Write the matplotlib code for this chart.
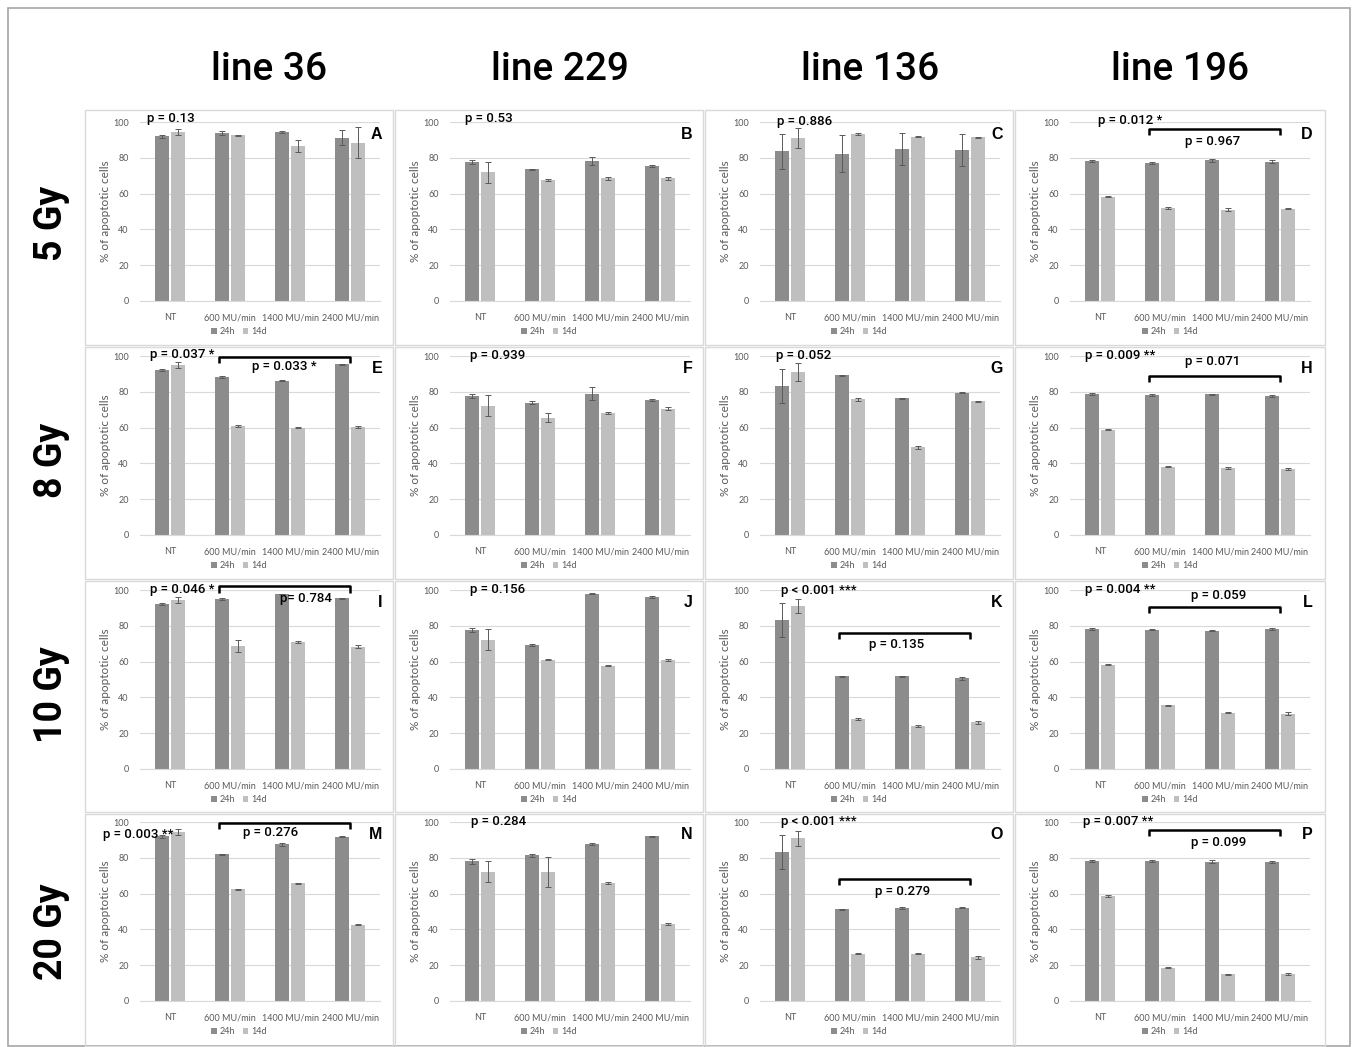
"""Apoptotic cell fractions, 4 cell lines x 4 doses, grouped bars 24h / 14d."""

import matplotlib

matplotlib.use("Agg")

import matplotlib.pyplot as plt
import numpy as np
from matplotlib.patches import Rectangle

W, H = 1356, 1047

cell_lines = ["line 36", "line 229", "line 136", "line 196"]
doses = ["5 Gy", "8 Gy", "10 Gy", "20 Gy"]
groups = ["NT", "600 MU/min", "1400 MU/min", "2400 MU/min"]
letters = [["A", "B", "C", "D"],
           ["E", "F", "G", "H"],
           ["I", "J", "K", "L"],
           ["M", "N", "O", "P"]]

# rows: 5, 8, 10, 20 Gy   columns: NT, 600, 1400, 2400 MU/min
line36_24h = [[92, 93.7, 94.4, 91.3], [92.3, 88.4, 86.3, 95.3],
              [92.2, 95, 97.8, 95.3], [92, 82, 87.6, 91.7]]
line36_14d = [[94.6, 92.6, 86.7, 88.5], [94.8, 60.7, 60, 60.4],
              [94.4, 68.9, 71, 68.3], [94.5, 62.5, 65.9, 42.7]]
line36_24h_err = [[0.8, 1, 0.3, 4.4], [0.5, 0.5, 0.5, 0.4],
                  [0.5, 0.7, 0.2, 0.3], [0.8, 0.3, 0.8, 0.3]]
line36_14d_err = [[1.7, 0.3, 3.2, 8.6], [1.7, 0.5, 0.4, 0.5],
                  [1.5, 3.4, 0.5, 0.7], [1.7, 0.3, 0.3, 0.4]]

line229_24h = [[77.8, 73.7, 78.2, 75.4], [77.8, 73.9, 78.9, 75.6],
               [77.8, 69.4, 97.8, 96.1], [78, 81.3, 87.7, 92.1]]
line229_14d = [[71.9, 67.6, 68.5, 68.5], [72.2, 65.6, 68.3, 70.6],
               [72.2, 61.1, 57.8, 61.1], [72.3, 72, 66, 43]]
line229_24h_err = [[1.1, 0.3, 2.5, 0.3], [1.1, 0.8, 3.6, 0.5],
                   [1.1, 0.7, 0.3, 0.5], [1.2, 0.7, 0.3, 0.3]]
line229_14d_err = [[5.8, 0.5, 1, 1], [5.8, 2.4, 0.5, 0.8],
                   [5.8, 0.4, 0.4, 0.5], [5.8, 8.2, 0.6, 0.5]]

line136_24h = [[83.6, 82.3, 85, 84.4], [83.5, 89.2, 76.3, 79.4],
               [83.3, 51.7, 51.7, 50.7], [83.4, 51.2, 52, 52]]
line136_14d = [[91, 93.3, 91.8, 91.4], [91, 75.8, 49, 74.6],
               [91.1, 27.9, 24, 26], [91, 26.5, 26.5, 24.4]]
line136_24h_err = [[9.6, 10.2, 9, 9.1], [9.5, 0.3, 0.3, 0.3],
                   [9.3, 0.3, 0.3, 0.8], [9.5, 0.3, 0.4, 0.3]]
line136_14d_err = [[5.6, 0.4, 0.4, 0.3], [5, 0.8, 0.8, 0.3],
                   [4.1, 0.8, 0.8, 0.8], [4.2, 0.5, 0.5, 0.8]]

line196_24h = [[78.1, 77, 78.5, 77.9], [78.9, 78.3, 78.6, 77.6],
               [78.3, 77.8, 77.2, 78.3], [78.3, 78.3, 77.9, 77.6]]
line196_14d = [[58.3, 51.9, 51.1, 51.5], [58.9, 38.2, 37.2, 36.7],
               [58.3, 35.6, 31.5, 31], [58.6, 18.7, 15, 15]]
line196_24h_err = [[0.4, 0.7, 0.7, 0.6], [0.5, 0.6, 0.4, 0.4],
                   [0.4, 0.4, 0.3, 0.7], [0.4, 0.4, 1, 0.4]]
line196_14d_err = [[0.4, 0.4, 0.7, 0.3], [0.4, 0.4, 0.6, 0.5],
                   [0.4, 0.4, 0.4, 0.7], [0.4, 0.5, 0.3, 0.5]]

# overall p value per panel, and the bracketed 600-2400 comparison
line36_p = ["p = 0.13", "p = 0.037 *", "p = 0.046 *", "p = 0.003 **"]
line229_p = ["p = 0.53", "p = 0.939", "p = 0.156", "p = 0.284"]
line136_p = ["p = 0.886", "p = 0.052", "p < 0.001 ***", "p < 0.001 ***"]
line196_p = ["p = 0.012 *", "p = 0.009 **", "p = 0.004 **", "p = 0.007 **"]

line36_bracket_p = [None, "p = 0.033 *", "p= 0.784", "p = 0.276"]
line229_bracket_p = [None, None, None, None]
line136_bracket_p = [None, None, "p = 0.135", "p = 0.279"]
line196_bracket_p = ["p = 0.967", "p = 0.071", "p = 0.059", "p = 0.099"]

means_24h = [line36_24h, line229_24h, line136_24h, line196_24h]
means_14d = [line36_14d, line229_14d, line136_14d, line196_14d]
errs_24h = [line36_24h_err, line229_24h_err, line136_24h_err, line196_24h_err]
errs_14d = [line36_14d_err, line229_14d_err, line136_14d_err, line196_14d_err]
p_main = [line36_p, line229_p, line136_p, line196_p]
p_bracket = [line36_bracket_p, line229_bracket_p, line136_bracket_p, line196_bracket_p]

# ---- layout (pixels) ----
panel_x = [85, 395, 705, 1015]
panel_w = [308, 308, 308, 310]
panel_y = [110, 347, 581, 814]
panel_h = [235, 232, 231, 232]
axes_left = [140, 450, 760, 1070]
axes_top = [122, 356, 590, 822]
AX_W, AX_H = 240, 179

# main p label position (x left, y centre) in data units
main_pos = {
    "A": (-0.38, 102), "B": (-0.25, 102), "C": (-0.22, 100.5), "D": (-0.03, 101),
    "E": (-0.33, 101), "F": (-0.17, 100.5), "G": (-0.23, 100.5), "H": (-0.25, 100.5),
    "I": (-0.33, 100.5), "J": (-0.17, 100.5), "K": (-0.15, 99.5), "L": (-0.25, 100.5),
    "M": (-1.12, 93), "N": (-0.15, 100.5), "O": (-0.15, 100), "P": (-0.28, 100),
}
# bracket height and the text position (x centre, y centre)
bracket_pos = {
    "D": (96, 1.88, 89), "E": (99.4, 1.9, 94.4), "H": (89, 1.88, 97.2),
    "I": (102, 2.27, 95.5), "K": (76, 1.78, 69.4), "L": (90.5, 1.97, 97.2),
    "M": (99.6, 1.67, 94), "O": (68.3, 1.88, 61), "P": (95.7, 1.98, 88.8),
}

C24 = "#8c8c8c"
C14 = "#bfbfbf"
GRID = "#d9d9d9"
TXT = "#595959"
AX_FONT = ["Lato", "DejaVu Sans"]
P_FONT = ["Roboto", "DejaVu Sans"]


def fig_rect(x, y, w, h):
    return [x / W, 1 - (y + h) / H, w / W, h / H]


fig = plt.figure(figsize=(W / 100, H / 100), dpi=100)
plt.rcParams["font.family"] = AX_FONT

fig.add_artist(Rectangle((8 / W, 1 - 1046 / H), 1342 / W, 1038 / H,
                         transform=fig.transFigure, fill=False,
                         ec="#a6a6a6", lw=1.2))

for c, name in enumerate(cell_lines):
    fig.text(([269, 560, 870, 1180][c]) / W, 1 - 70 / H, name,
             family=P_FONT, weight="medium", fontsize=28,
             ha="center", va="center")
for r, dose in enumerate(doses):
    fig.text(52 / W, 1 - [223, 460, 695, 932][r] / H, dose,
             family=P_FONT, weight="bold", fontsize=27, rotation=90,
             ha="center", va="center")

x = np.arange(len(groups))
bw = 0.235
for r in range(4):
    for c in range(4):
        letter = letters[r][c]
        fig.add_artist(Rectangle((panel_x[c] / W, 1 - (panel_y[r] + panel_h[r]) / H),
                                 panel_w[c] / W, panel_h[r] / H,
                                 transform=fig.transFigure, fill=False,
                                 ec=GRID, lw=1.0))
        ax = fig.add_axes(fig_rect(axes_left[c], axes_top[r], AX_W, AX_H))
        ekw = dict(ecolor="#5a5a5a", elinewidth=0.7, capsize=2, capthick=0.7)
        b1 = ax.bar(x - 0.14, means_24h[c][r], bw, yerr=errs_24h[c][r],
                    color=C24, error_kw=ekw, zorder=2, label="24h")
        b2 = ax.bar(x + 0.14, means_14d[c][r], bw, yerr=errs_14d[c][r],
                    color=C14, error_kw=ekw, zorder=2, label="14d")

        ax.set_xlim(-0.5, 3.5)
        ax.set_ylim(0, 100)
        ax.set_yticks(range(0, 101, 20))
        ax.set_xticks(x)
        ax.set_xticklabels(groups)
        ax.grid(axis="y", color=GRID, lw=0.8)
        ax.set_axisbelow(True)
        for s in ("top", "right", "left"):
            ax.spines[s].set_visible(False)
        ax.spines["bottom"].set_color(GRID)
        ax.tick_params(axis="both", length=0, labelsize=6.5, colors=TXT)
        ax.tick_params(axis="y", pad=8)
        ax.tick_params(axis="x", pad=9)
        ax.set_ylabel("% of apoptotic cells", fontsize=8.5, color=TXT)
        ax.yaxis.set_label_coords(-0.12, 0.5)

        ax.legend(handles=[b1, b2], loc="center",
                  bbox_to_anchor=((panel_x[c] + panel_w[c] / 2) / W,
                                  1 - (axes_top[r] + AX_H + 31) / H),
                  bbox_transform=fig.transFigure, ncol=2, frameon=False,
                  fontsize=6.5, handlelength=0.6, handleheight=0.6,
                  columnspacing=0.9, handletextpad=0.3, labelcolor=TXT)

        ax.text(1.01, 0.93, letter, transform=ax.transAxes, ha="right",
                va="center", family=["Liberation Sans", "DejaVu Sans"],
                weight="bold", fontsize=11.5)

        px, py = main_pos[letter]
        ax.text(px, py, p_main[c][r], ha="left", va="center", family=P_FONT,
                weight="medium", fontsize=9.5, clip_on=False, zorder=5)

        if p_bracket[c][r] is not None:
            by, tx, ty = bracket_pos[letter]
            ax.plot([0.82, 0.82, 3.0, 3.0], [by - 3.5, by, by, by - 3.5],
                    color="black", lw=1.8, clip_on=False, zorder=5,
                    solid_capstyle="butt")
            ax.text(tx, ty, p_bracket[c][r], ha="center", va="center",
                    family=P_FONT, weight="medium", fontsize=9.5,
                    clip_on=False, zorder=5)

fig.savefig("out.png", dpi=100)
